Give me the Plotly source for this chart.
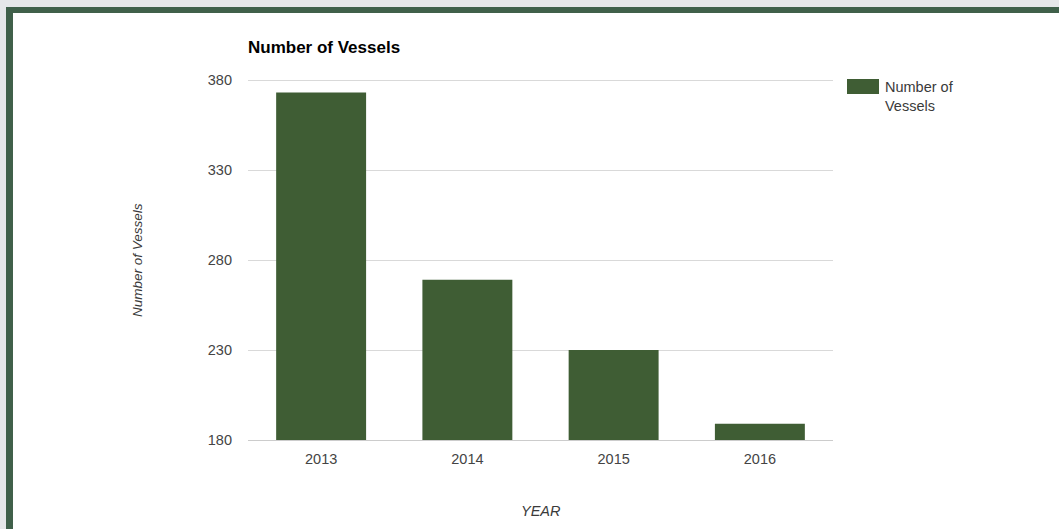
import plotly.graph_objects as go

years = ["2013", "2014", "2015", "2016"]
vessels = [373, 269, 230, 189]
y_ticks = [180, 230, 280, 330, 380]

W, H = 1059, 529
L, R, T, B = 248, 226, 78, 89
PW, PH = W - L - R, H - T - B
Y_TOP = 380 + 2 / 1.8  # 2 px of headroom so the 380 gridline is drawn

BAR = "#3f5d34"
BORDER = "#40604a"
OUTER = "#e6e7e9"
FONT = "Arial, Liberation Sans, sans-serif"


def px(x):
    return (x - L) / PW


def py(y):
    return (H - B - y) / PH


fig = go.Figure()
fig.add_trace(go.Bar(x=years, y=vessels, marker=dict(color=BAR, line=dict(width=0)),
                     name="Number of Vessels", showlegend=False))

shapes = []
def rect(x0, y0, x1, y1, color):
    shapes.append(dict(type="rect", xref="paper", yref="paper",
                       x0=px(x0), x1=px(x1), y0=py(y1), y1=py(y0),
                       fillcolor=color, line=dict(width=0), layer="above"))

rect(0, 0, W, 7, OUTER)
rect(0, 0, 6, H, OUTER)
rect(6, 7, W, 13, BORDER)
rect(6, 7, 13, H, BORDER)
# legend swatch
rect(847, 79, 879, 94, BAR)

annotations = [
    dict(text="Number of<br>Vessels", xref="paper", yref="paper", x=px(883), y=py(77),
         xanchor="left", yanchor="top", align="left", showarrow=False,
         font=dict(family=FONT, size=14.5, color="#3a3a3a")),
    dict(text="<i>Number of Vessels</i>", xref="paper", yref="paper", x=px(137), y=py(260),
         xanchor="center", yanchor="middle", textangle=-90, showarrow=False,
         font=dict(family=FONT, size=13.5, color="#3a3a3a")),
    dict(text="<i>YEAR</i>", xref="paper", yref="paper", x=0.5, y=py(511),
         xanchor="center", yanchor="middle", showarrow=False,
         font=dict(family=FONT, size=14.5, color="#3a3a3a")),
]

fig.update_layout(
    width=W, height=H, autosize=False,
    margin=dict(l=L, r=R, t=T, b=B, pad=0),
    paper_bgcolor="white", plot_bgcolor="white",
    bargap=0.385,
    font=dict(family=FONT, size=14.5, color="#444"),
    title=dict(text="<b>Number of Vessels</b>", x=L / W, xanchor="left",
               xref="container", yref="container", y=1 - 47 / H, yanchor="middle",
               font=dict(family=FONT, size=17, color="#000")),
    xaxis=dict(showgrid=False, showline=True, linecolor="#cccccc", linewidth=1,
               ticks="", ticklabelstandoff=6, tickfont=dict(size=14.5, color="#444")),
    yaxis=dict(range=[180, Y_TOP], tickvals=y_ticks, showgrid=True, gridcolor="#d9d9d9",
               zeroline=False, showline=False, ticks="", ticklabelstandoff=15,
               tickfont=dict(size=14.5, color="#444")),
    shapes=shapes,
    annotations=annotations,
)

fig.write_html("out.html", config={"displayModeBar": False},
               post_script="document.body.style.margin='0';document.body.style.padding='0';")
